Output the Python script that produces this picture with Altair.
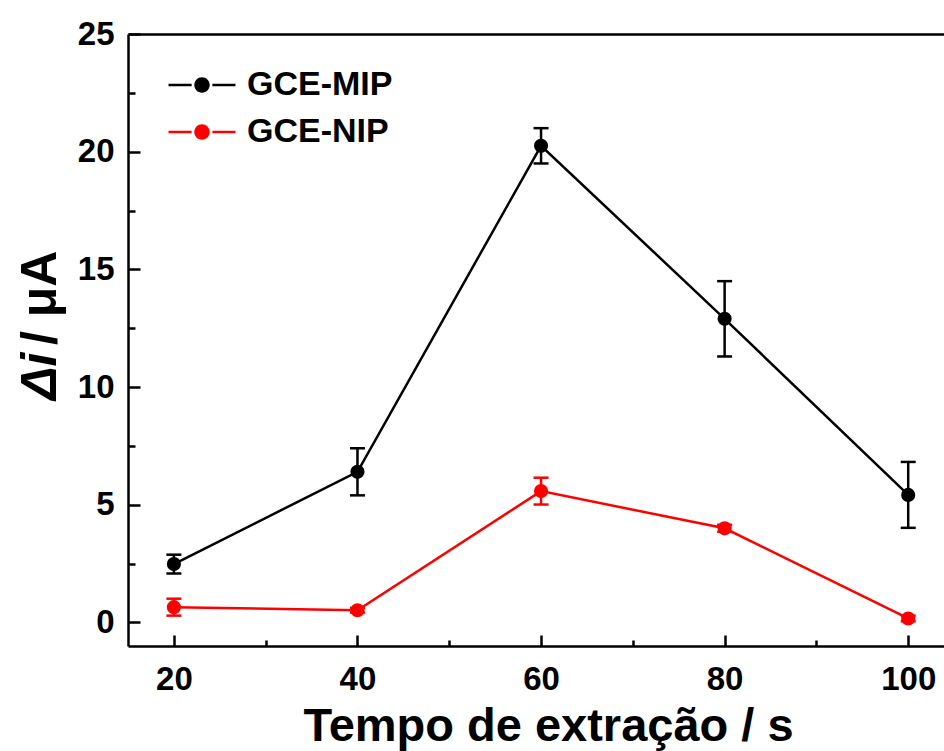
import altair as alt
import pandas as pd

# ---- data ----
time_s = [20, 40, 60, 80, 100]
mip = [2.48, 6.40, 20.25, 12.90, 5.42]
mip_err = [0.40, 1.00, 0.75, 1.60, 1.40]
nip = [0.65, 0.52, 5.58, 4.00, 0.17]
nip_err = [0.36, 0.10, 0.57, 0.15, 0.12]
series_names = ["GCE-MIP", "GCE-NIP"]
series_colors = ["#000000", "#ff0000"]
x_major = [20, 40, 60, 80, 100]
x_minor = [30, 50, 70, 90]
y_major = [0, 5, 10, 15, 20, 25]
y_minor = [2.5, 7.5, 12.5, 17.5, 22.5]
x_title = "Tempo de extração / s"
y_title_italic = "Δi"
y_title_rest = "/ μA"

rows = []
for name, vals, errs in ((series_names[0], mip, mip_err), (series_names[1], nip, nip_err)):
    for t, v, e in zip(time_s, vals, errs):
        rows.append({"t": t, "v": v, "lo": v - e, "hi": v + e, "series": name})
df = pd.DataFrame(rows)
one = pd.DataFrame({"k": [0]})

FONT = "Liberation Sans"
W, H = 816, 612
LW = 2.5

xs = alt.Scale(domain=[15, 103.9], nice=False, zero=False)
ys = alt.Scale(domain=[-1, 25], nice=False, zero=False)
cs = alt.Scale(domain=series_names, range=series_colors)

# legend symbol: line pieces + filled dot with small gaps, fill only
legend_path = ("M-2,-0.075H-0.62V0.075H-2Z"
               "M0.62,-0.075H2V0.075H0.62Z"
               "M-0.46,0A0.46,0.46,0,1,1,0.46,0A0.46,0.46,0,1,1,-0.46,0Z")
leg = alt.Legend(
    orient="none", legendX=57, legendY=34, title=None,
    symbolType=legend_path, symbolSize=1122, symbolStrokeWidth=0, symbolOpacity=1,
    labelFont=FONT, labelFontSize=34, labelFontWeight="bold", labelColor="black",
    labelOffset=28, rowPadding=13, labelLimit=400,
)
color = alt.Color("series:N", scale=cs, legend=leg)

base = alt.Chart(df)

points = base.mark_point(filled=True, shape="circle", size=200, opacity=1).encode(
    x=alt.X("t:Q", scale=xs, axis=None),
    y=alt.Y("v:Q", scale=ys, axis=None),
    color=color,
)

lines = base.mark_line(strokeWidth=LW).encode(
    x=alt.X("t:Q", scale=xs, axis=alt.Axis(
        orient="bottom", values=x_major, format="d", ticks=False, tickSize=0,
        domain=True, domainColor="black", domainWidth=LW, grid=False,
        labelFont=FONT, labelFontSize=33, labelFontWeight="bold", labelColor="black",
        labelPadding=17, title=x_title, titleFont=FONT, titleFontSize=47,
        titleFontWeight="bold", titleColor="black", titleBaseline="alphabetic",
        titleX=420, titleY=94, titleAnchor="middle")),
    y=alt.Y("v:Q", scale=ys, axis=alt.Axis(
        orient="left", values=y_major, ticks=False, tickSize=0,
        domain=True, domainColor="black", domainWidth=LW, grid=False,
        labelFont=FONT, labelFontSize=33, labelFontWeight="bold", labelColor="black",
        labelPadding=14, title=None)),
    color=color,
    detail="series:N",
)

stems = base.mark_rule(strokeWidth=LW).encode(
    x=alt.X("t:Q", scale=xs, axis=alt.Axis(
        orient="top", offset=-H, values=x_major, domain=False, labels=False,
        ticks=True, tickSize=11, tickWidth=LW, tickColor="black", grid=False, title=None)),
    y=alt.Y("lo:Q", scale=ys, axis=alt.Axis(
        orient="right", offset=-W, values=y_major, domain=False, labels=False,
        ticks=True, tickSize=12, tickWidth=LW, tickColor="black", grid=False, title=None)),
    y2="hi:Q",
    color=color,
)

caps_lo = base.mark_tick(orient="horizontal", size=15, thickness=LW, opacity=1).encode(
    x=alt.X("t:Q", scale=xs, axis=alt.Axis(
        orient="top", offset=-H, values=x_minor, domain=False, labels=False,
        ticks=True, tickSize=6, tickWidth=LW, tickColor="black", grid=False, title=None)),
    y=alt.Y("lo:Q", scale=ys, axis=alt.Axis(
        orient="right", offset=-W, values=y_minor, domain=False, labels=False,
        ticks=True, tickSize=7, tickWidth=LW, tickColor="black", grid=False, title=None)),
    color=color,
)

caps_hi = base.mark_tick(orient="horizontal", size=15, thickness=LW, opacity=1).encode(
    x=alt.X("t:Q", scale=xs, axis=alt.Axis(
        orient="top", offset=0, domain=True, domainColor="black", domainWidth=LW,
        labels=False, ticks=False, grid=False, title=None)),
    y=alt.Y("hi:Q", scale=ys, axis=None),
    color=color,
)

yt1 = alt.Chart(one).mark_text(
    text=y_title_italic, angle=270, align="left", baseline="alphabetic",
    font=FONT, fontSize=50, fontWeight="bold", fontStyle="italic", color="black",
).encode(x=alt.value(-72), y=alt.value(366))

yt2 = alt.Chart(one).mark_text(
    text=y_title_rest, angle=270, align="left", baseline="alphabetic",
    font=FONT, fontSize=50, fontWeight="bold", color="black",
).encode(x=alt.value(-72), y=alt.value(311))

chart = alt.layer(points, lines, stems, caps_lo, caps_hi, yt1, yt2).resolve_axis(
    x="independent", y="independent"
).properties(
    width=W, height=H, autosize=alt.AutoSizeParams(type="none"),
    padding={"left": 128, "top": 34, "right": 0, "bottom": 105},
    background="white",
).configure_view(stroke=None)

chart.save("out.html", embed_options={"renderer": "svg", "actions": False})
